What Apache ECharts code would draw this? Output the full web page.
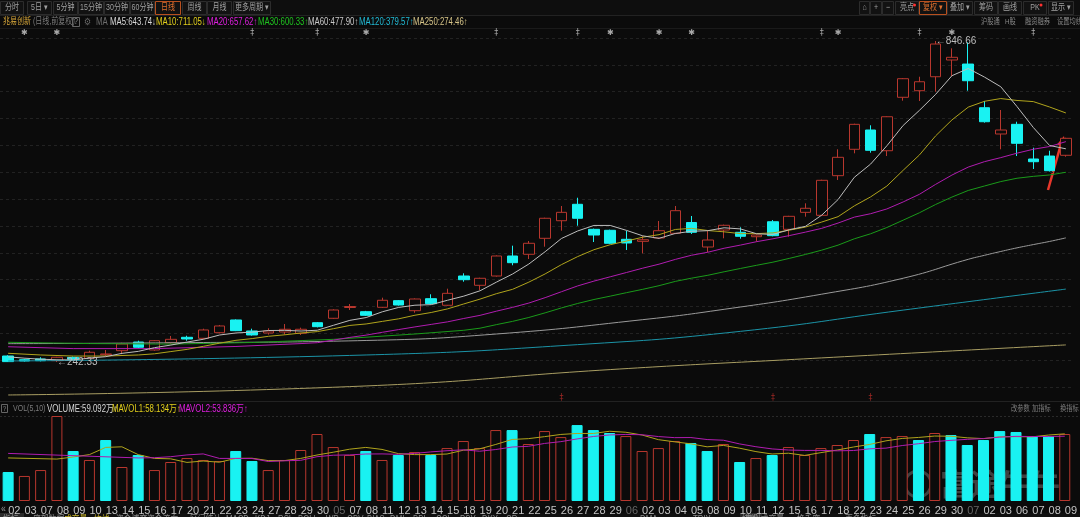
<!DOCTYPE html>
<html>
<head>
<meta charset="utf-8">
<script src="https://cdn.jsdelivr.net/npm/echarts@6/dist/echarts.min.js"></script>
<style>
html,body{margin:0;padding:0;background:#0b0b0b;}
#main{width:1080px;height:517px;}
</style>
</head>
<body>
<div id="main"></div>
<script>
// 日期标签（灰色的是月份）
var days = ['02','03','07','08','09','10','13','14','15','16','17','20','21','22','23','24','27','28','29','30',
  '05','07','08','11','12','13','14','15','18','19','20','21','22','25','26','27','28','29',
  '06','02','03','04','05','08','09','10','11','12','15','16','17','18','22','23','24','25','26','29','30',
  '07','02','03','06','07','08','09'];
var monthIdx = [20, 38, 59];

var opens  = [253.6,246.6,248.0,244.8,251.0,249.3,256.0,263.6,279.9,264.9,278.6,288.8,286.9,297.5,321.4,300.7,296.9,298.8,296.3,316.3,
  324.6,344.9,337.0,345.3,357.8,338.9,361.5,349.1,404.2,386.7,404.2,441.9,445.1,475.2,508.3,539.2,492.1,490.3,473.3,469.5,
  475.8,484.6,504.9,458.8,490.8,486.5,478.2,506.4,492.1,524.1,518.5,593.1,642.8,679.1,640.1,740.7,753.1,779.4,810.9,803.3,
  721.1,671.6,689.8,624.5,630.1,631.5];
var closes = [243.0,244.2,244.8,251.2,247.5,260.6,257.4,276.2,270.0,282.4,285.0,285.6,302.6,310.1,301.3,293.2,300.7,303.9,303.9,308.8,
  340.2,346.8,330.2,358.5,349.6,360.9,352.1,371.6,397.3,399.9,441.9,429.3,465.8,512.9,524.1,512.9,481.4,465.8,466.4,472.5,
  489.5,527.2,486.5,472.0,499.7,479.0,481.4,480.1,516.6,531.7,584.4,627.7,689.8,640.9,704.1,775.7,770.0,841.0,816.0,771.9,
  694.7,679.1,654.1,619.4,602.5,663.5];
var lows   = [242.6,243.0,243.5,242.33,245.5,248.5,253.6,257.0,268.5,263.5,277.0,282.4,285.0,296.0,300.5,292.0,293.8,293.8,293.2,307.5,
  323.5,340.2,329.0,344.0,348.5,335.1,351.0,348.0,393.5,377.9,403.0,424.4,436.2,459.4,489.5,498.9,468.2,464.5,453.2,446.9,
  474.5,483.0,483.3,449.4,475.2,474.5,468.8,479.0,478.2,515.9,517.0,585.0,635.2,636.4,630.1,734.3,733.7,751.2,780.8,753.1,
  693.0,642.8,630.1,605.7,601.0,628.8];
var highs  = [255.0,248.5,251.2,252.0,252.5,263.6,264.9,278.5,282.4,283.5,291.3,291.8,305.0,312.0,322.5,305.0,305.8,313.8,306.9,317.6,
  341.5,351.5,338.5,363.4,359.0,362.0,369.8,380.3,409.3,401.0,443.0,461.3,470.1,514.0,536.0,551.6,493.5,491.5,489.5,479.5,
  507.8,536.0,517.2,488.9,501.0,495.9,482.5,509.6,517.5,541.1,585.5,642.8,691.0,688.0,705.0,777.0,779.4,846.66,832.9,844.2,
  733.7,716.8,694.7,645.8,640.1,664.5];
// 成交量（万）
var vols = [25.6,22.1,27.3,75.0,44.1,36.2,53.8,30.0,40.6,27.3,34.4,37.9,36.2,35.3,44.1,35.3,27.3,36.2,45.0,59.1,
  47.6,40.6,44.1,36.2,40.6,43.2,40.6,46.7,52.9,46.7,62.6,62.6,50.3,61.7,56.4,67.0,62.6,60.0,57.3,44.1,
  46.7,52.9,51.2,44.1,50.3,34.4,37.9,40.6,47.6,40.6,46.7,49.4,53.8,59.1,56.4,57.3,53.8,60.0,58.2,49.4,
  53.8,61.7,60.9,57.3,57.3,59.092];

// 均线开头部分（窗口未满，从图上读）
var ma5Head  = [[0,252.0],[1,249.5],[2,247.5],[3,246.5]];
var ma10Head = [[0,258.7],[2,255.5],[4,253.5],[6,253.5],[8,255.5]];
var ma20Head = [[0,271.0],[4,267.5],[9,267.5],[14,271.5],[18,277.0]];
var ma30Head = [[0,279.4],[5,277.0],[10,276.0],[15,279.0],[20,285.0],[25,295.0],[28,302.0]];
var ma60Head = [[0,276.8],[10,278.5],[22,282.8],[30,295.0],[39,322.0],[44,341.5],[50,370.0],[55,400.0]];
var ma120Pts = [[0,244.2],[22,255.5],[35,275.0],[45,300.0],[55,340.0],[65,379.57]];
var ma250Pts = [[0,180.2],[22,197.2],[37,228.0],[50,250.0],[65,274.46]];
var vma5Head  = [[0,38.0],[3,37.0]];
var vma10Head = [[0,42.0],[8,38.0]];

// 顶部事件标记、底部红色标记
var flagIdx = [1,3,15,19,22,30,35,37,40,42,50,51,56,58,63];
var flagSym = ['✱','✱','‡','‡','✱','‡','‡','✱','✱','✱','‡','✱','‡','✱','‡'];
var redFlagIdx = [34,47,53];

// 底部指标页签
var tabNames = ['指标','底部数据','成交量','均线','资金博弈','资金流向','区间统计','MACD','KDJ','RSI','BOLL','WR','OBV','BIAS','DMI','BBI',
  'CCI','PSY','DKX','CR','DMA','TRIX','虚拟成交量','换手率','更多指标','横版'];
var tabX = [3,33,64,94,116,147,190,226,255,278,298,326,347,367,390,413,
  436,460,482,506,640,693,745,797,845,742];

var RED = '#b8372e', CYAN = '#19f2f2', BG = '#0b0b0b';
var FONT = "'Liberation Sans','Noto Sans CJK SC',sans-serif";
var SX = 0.78;

function maLine(arr, n, head) {
  var out = head.slice();
  for (var i = n - 1; i < arr.length; i++) {
    var s = 0;
    for (var k = i - n + 1; k <= i; k++) s += arr[k];
    out.push([i, +(s / n).toFixed(2)]);
  }
  return out;
}

var kData = [];
for (var i = 0; i < closes.length; i++) kData.push([opens[i], closes[i], lows[i], highs[i]]);

var volData = [];
for (var j = 0; j < vols.length; j++) {
  var up = j == 0 ? closes[0] >= opens[0] : closes[j] >= closes[j - 1];
  volData.push({value: vols[j], itemStyle: {color: up ? BG : CYAN, borderColor: up ? RED : CYAN, borderWidth: 1}});
}

var flagData = flagIdx.map(function (d, k) { return {value: [d, 0], label: {formatter: flagSym[k]}}; });
var redFlagData = redFlagIdx.map(function (d) { return [d, 0]; });

function txt(x, y, s, color, size, align) {
  return {type: 'text', x: x, y: y, scaleX: SX, silent: true,
    style: {text: s, fill: color, font: (size || 10) + 'px ' + FONT, textAlign: align || 'left', textVerticalAlign: 'middle'}};
}
function btn(x, w, s, active) {
  return [
    {type: 'rect', shape: {x: x + 0.5, y: 1.5, width: w - 1, height: 13}, style: {fill: '#121212', stroke: active ? '#b8501f' : '#2c2c2c', lineWidth: 1}},
    txt(x + w / 2, 8, s, active ? '#e0702e' : '#a0a0a0', 9, 'center')
  ];
}
function hline(y, color, dash) {
  return {type: 'line', shape: {x1: 0, y1: y, x2: 1080, y2: y}, style: {stroke: color, lineWidth: 1, lineDash: dash || null}, silent: true};
}

var g = [];
g.push({type: 'rect', shape: {x: 0, y: 0, width: 1080, height: 16}, style: {fill: '#0e0e0e'}});
[[0,24,'分时'],[27,25,'5日 ▾'],[53,25,'5分钟'],[78,26,'15分钟'],[104,26,'30分钟'],[130,25,'60分钟'],[155,26,'日线',1],
 [182,25,'周线'],[207,25,'月线'],[233,38,'更多周期 ▾']].forEach(function (b) { g = g.concat(btn(b[0], b[1], b[2], b[3])); });
[[859,11,'⌂'],[870,12,'+'],[882,12,'−'],[895,24,'亮点'],[919,28,'复权 ▾',1],[947,26,'叠加 ▾'],[974,24,'筹码'],[998,24,'画线'],[1023,24,'PK'],[1048,26,'显示 ▾']]
  .forEach(function (b) { g = g.concat(btn(b[0], b[1], b[2], b[3])); });
g.push({type: 'circle', shape: {cx: 914.5, cy: 5, r: 1.5}, style: {fill: '#ff3030'}});
g.push({type: 'circle', shape: {cx: 1041, cy: 5, r: 1.5}, style: {fill: '#ff3030'}});
g.push(hline(15.5, '#222'));
g.push(hline(28.5, '#1a1a1a'));

// 均线图例
g.push(txt(3, 22, '兆易创新', '#d9a83a', 9));
g.push(txt(33, 22, '(日线,前复权)', '#7c7c7c', 9));
g.push({type: 'rect', shape: {x: 72.5, y: 17.5, width: 7, height: 9}, style: {fill: 'none', stroke: '#666'}});
g.push(txt(76, 22, '?', '#888', 9, 'center'));
g.push(txt(88, 22, '⚙', '#666', 10, 'center'));
g.push(txt(96, 22, 'MA', '#6c6c6c', 10));
g.push(txt(110, 22, 'MA5:643.74↓', '#d8d8d8', 10));
g.push(txt(156, 22, 'MA10:711.05↓', '#e2cf1c', 10));
g.push(txt(207, 22, 'MA20:657.62↑', '#e01fe0', 10));
g.push(txt(258, 22, 'MA30:600.33↑', '#1fc41f', 10));
g.push(txt(308, 22, 'MA60:477.90↑', '#c8c8c8', 10));
g.push(txt(359, 22, 'MA120:379.57↑', '#22bcd6', 10));
g.push(txt(413, 22, 'MA250:274.46↑', '#d6c488', 10));
g.push(txt(981, 22, '沪股通', '#8a8a8a', 8));
g.push(txt(1005, 22, 'H股', '#8a8a8a', 8));
g.push(txt(1025, 22, '融资融券', '#8a8a8a', 8));
g.push(txt(1057, 22, '设置均线', '#8a8a8a', 8));

// 成交量图例
g.push(hline(401.5, '#222'));
g.push({type: 'rect', shape: {x: 1.5, y: 404.5, width: 6, height: 8}, style: {fill: 'none', stroke: '#666'}});
g.push(txt(4.5, 409, '?', '#888', 8, 'center'));
g.push(txt(13, 409, 'VOL(5,10)', '#7c7c7c', 9));
g.push(txt(47, 409, 'VOLUME:59.092万↑', '#d8d8d8', 10));
g.push(txt(112, 409, 'MAVOL1:58.134万↑', '#e2cf1c', 10));
g.push(txt(179, 409, 'MAVOL2:53.836万↑', '#e01fe0', 10));
g.push(txt(1011, 409, '改参数', '#7c7c7c', 8));
g.push(txt(1032, 409, '加指标', '#7c7c7c', 8));
g.push(txt(1060, 409, '换指标', '#7c7c7c', 8));
g.push(hline(416.5, '#2a2a2a', [2, 2]));
g.push(txt(1, 509, '«', '#9a9a9a', 11));

// 水印
g.push({type: 'circle', shape: {cx: 918, cy: 484, r: 13}, style: {fill: 'none', stroke: 'rgba(255,255,255,0.22)', lineWidth: 3}});
g.push({type: 'text', x: 940, y: 484, silent: true,
  style: {text: '富途牛牛', fill: 'rgba(255,255,255,0.22)', font: 'bold 30px "Noto Sans CJK SC"', textVerticalAlign: 'middle'}});

// 底部页签（只露出上沿）
g.push({type: 'rect', shape: {x: 0, y: 513, width: 1080, height: 4}, style: {fill: '#101010'}});
g.push({type: 'rect', shape: {x: 0, y: 513, width: 24, height: 4}, style: {fill: '#2a2a2a'}});
g.push({type: 'rect', shape: {x: 740, y: 513, width: 22, height: 4}, style: {fill: '#2a2a2a'}});
tabNames.forEach(function (t, k) {
  var c = (t == '成交量' || t == '均线') ? '#c8b428' : '#8a8a8a';
  g.push(txt(tabX[k], 520, t, c, 10));
});

// 手绘红色箭头
g.push({type: 'line', shape: {x1: 1048, y1: 190, x2: 1061, y2: 144}, style: {stroke: '#e8372b', lineWidth: 2.5}});
g.push({type: 'polygon', shape: {points: [[1064, 136], [1065.5, 147], [1057, 144.5]]}, style: {fill: '#e8372b'}});

var hide = {show: false};

var option = {
  backgroundColor: BG,
  animation: false,
  grid: [
    {left: 0, right: 6, top: 28, height: 10},
    {left: 0, right: 6, top: 35, height: 363},
    {left: 0, right: 6, top: 416, height: 85},
    {left: 0, right: 6, top: 38, height: 349},
    {left: 0, right: 6, top: 393, height: 10}
  ],
  xAxis: [
    {type: 'category', gridIndex: 0, data: days, show: false},
    {type: 'category', gridIndex: 1, data: days, show: false},
    {type: 'category', gridIndex: 2, data: days, axisLine: hide, axisTick: hide, splitLine: hide,
      axisLabel: {interval: 0, fontSize: 11, margin: 4, align: 'left', fontFamily: FONT,
        color: function (v, idx) { return monthIdx.indexOf(idx) >= 0 ? '#666' : '#c4c4c4'; }}},
    {type: 'value', gridIndex: 3, min: 0, max: 1, show: false},
    {type: 'category', gridIndex: 4, data: days, show: false}
  ],
  yAxis: [
    {type: 'value', gridIndex: 0, min: -1, max: 1, show: false},
    {type: 'value', gridIndex: 1, min: 174.5, max: 858, show: false},
    {type: 'value', gridIndex: 2, min: 0, max: 75, show: false},
    {type: 'value', gridIndex: 3, min: 0, max: 13, interval: 1, axisLine: hide, axisTick: hide, axisLabel: hide,
      splitLine: {show: true, lineStyle: {color: '#222', type: [3, 3]}}},
    {type: 'value', gridIndex: 4, min: -1, max: 1, show: false}
  ],
  series: [
    {type: 'scatter', xAxisIndex: 0, yAxisIndex: 0, data: flagData, symbolSize: 0,
      label: {show: true, position: 'inside', color: '#d0d0d0', fontSize: 8, fontFamily: 'DejaVu Sans'}},
    {type: 'scatter', xAxisIndex: 4, yAxisIndex: 4, data: redFlagData, symbolSize: 0,
      label: {show: true, position: 'inside', formatter: '‡', color: '#c0302a', fontSize: 8, fontFamily: 'DejaVu Sans'}},
    {type: 'line', xAxisIndex: 1, yAxisIndex: 1, data: ma250Pts, smooth: true, symbol: 'none', lineStyle: {width: 1, color: '#a89d62'}},
    {type: 'line', xAxisIndex: 1, yAxisIndex: 1, data: ma120Pts, smooth: true, symbol: 'none', lineStyle: {width: 1, color: '#1b93a6'}},
    {type: 'line', xAxisIndex: 1, yAxisIndex: 1, data: maLine(closes, 60, ma60Head), smooth: true, symbol: 'none', lineStyle: {width: 1, color: '#9a9a9a'}},
    {type: 'line', xAxisIndex: 1, yAxisIndex: 1, data: maLine(closes, 30, ma30Head), symbol: 'none', lineStyle: {width: 1, color: '#1a9a1a'}},
    {type: 'line', xAxisIndex: 1, yAxisIndex: 1, data: maLine(closes, 20, ma20Head), symbol: 'none', lineStyle: {width: 1, color: '#b01cb0'}},
    {type: 'line', xAxisIndex: 1, yAxisIndex: 1, data: maLine(closes, 10, ma10Head), symbol: 'none', lineStyle: {width: 1, color: '#b0a41c'}},
    {type: 'line', xAxisIndex: 1, yAxisIndex: 1, data: maLine(closes, 5, ma5Head), symbol: 'none', lineStyle: {width: 1, color: '#bdbdbd'}},
    {type: 'candlestick', xAxisIndex: 1, yAxisIndex: 1, data: kData, barWidth: 11,
      itemStyle: {color: BG, color0: CYAN, borderColor: RED, borderColor0: CYAN, borderWidth: 1},
      markPoint: {symbolSize: 0, animation: false,
        label: {show: true, position: 'right', distance: 0, color: '#bdbdbd', fontSize: 10, fontFamily: FONT,
          formatter: function (p) { return '←' + p.value; }},
        data: [{coord: [57, 846.66], value: '846.66'}, {coord: [3, 242.33], value: '242.33'}]}},
    {type: 'bar', xAxisIndex: 2, yAxisIndex: 2, data: volData, barWidth: 11},
    {type: 'line', xAxisIndex: 2, yAxisIndex: 2, data: maLine(vols, 5, vma5Head), symbol: 'none', lineStyle: {width: 1, color: '#b0a41c'}},
    {type: 'line', xAxisIndex: 2, yAxisIndex: 2, data: maLine(vols, 10, vma10Head), symbol: 'none', lineStyle: {width: 1, color: '#b01cb0'}}
  ],
  graphic: g
};

var myChart = echarts.init(document.getElementById('main'));
myChart.setOption(option);
</script>
</body>
</html>
